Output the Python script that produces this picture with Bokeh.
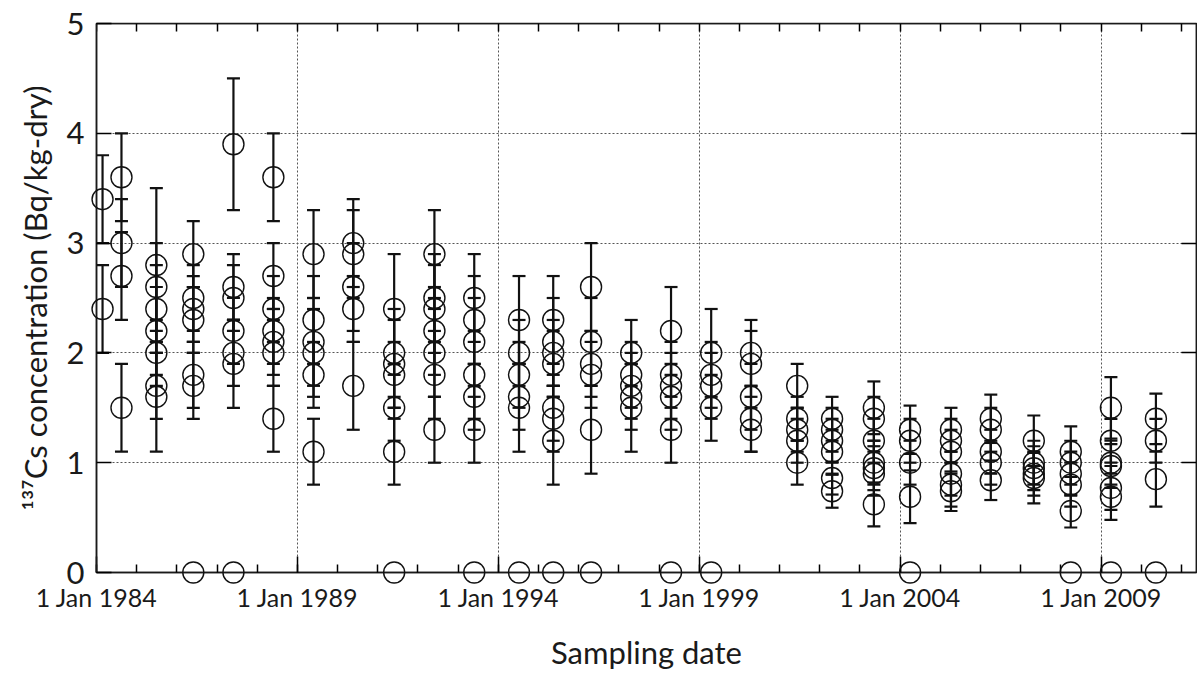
import calendar
from datetime import datetime

import pandas as pd
from bokeh.embed import file_html
from bokeh.models import (ColumnDataSource, CustomJSTickFormatter, DatetimeAxis,
                          DatetimeTickFormatter, FixedTicker, LinearAxis, Range1d,
                          TeeHead, Whisker)
from bokeh.plotting import figure
from bokeh.resources import INLINE

# ---------------- data ----------------
sample_dates = [
    "1984-02-25", "1984-08-15", "1985-06-28", "1986-05-30", "1987-05-30",
    "1988-05-27", "1989-05-27", "1990-05-23", "1991-05-30", "1992-05-30",
    "1993-05-27", "1994-07-08", "1995-05-15", "1996-04-23", "1997-04-23",
    "1998-04-20", "1999-04-20", "2000-04-16", "2001-06-10", "2002-04-23",
    "2003-05-08", "2004-04-01", "2005-04-08", "2006-04-05", "2007-05-01",
    "2008-04-01", "2009-04-01", "2010-05-15",
]
conc = [
    [3.4, 2.4],
    [3.6, 3.0, 2.7, 1.5],
    [2.8, 2.6, 2.4, 2.2, 2.0, 1.7, 1.6],
    [2.9, 2.5, 2.4, 2.3, 1.8, 1.7, 0.0],
    [3.9, 2.6, 2.5, 2.2, 2.0, 1.9, 0.0],
    [3.6, 2.7, 2.4, 2.2, 2.1, 2.0, 1.4],
    [2.9, 2.3, 2.1, 2.0, 1.8, 1.1],
    [3.0, 2.9, 2.6, 2.4, 1.7],
    [2.4, 2.0, 1.9, 1.8, 1.5, 1.1, 0.0],
    [2.9, 2.5, 2.4, 2.2, 2.0, 1.8, 1.3],
    [2.5, 2.3, 2.1, 1.8, 1.6, 1.3, 0.0],
    [2.3, 2.0, 1.8, 1.6, 1.5, 0.0],
    [2.3, 2.1, 2.0, 1.9, 1.5, 1.4, 1.2, 0.0],
    [2.6, 2.1, 1.9, 1.8, 1.3, 0.0],
    [2.0, 1.8, 1.7, 1.6, 1.5],
    [2.2, 1.8, 1.7, 1.6, 1.3, 0.0],
    [2.0, 1.8, 1.7, 1.5, 0.0],
    [2.0, 1.9, 1.6, 1.4, 1.3],
    [1.7, 1.4, 1.3, 1.2, 1.0],
    [1.4, 1.3, 1.2, 1.1, 0.86, 0.74],
    [1.5, 1.4, 1.2, 1.0, 0.95, 0.9, 0.62],
    [1.3, 1.2, 1.0, 0.69, 0.0],
    [1.3, 1.2, 1.1, 0.9, 0.8, 0.74],
    [1.4, 1.3, 1.1, 1.0, 0.84],
    [1.2, 1.0, 0.95, 0.9, 0.86],
    [1.1, 1.0, 0.9, 0.8, 0.56, 0.0],
    [1.5, 1.2, 1.0, 0.97, 0.77, 0.69, 0.0],
    [1.4, 1.2, 0.85, 0.0],
]
err = [
    [0.4, 0.4],
    [0.4, 0.4, 0.4, 0.4],
    [0.7, 0.4, 0.4, 0.4, 0.3, 0.3, 0.5],
    [0.3, 0.3, 0.3, 0.3, 0.3, 0.3, 0.0],
    [0.6, 0.3, 0.3, 0.3, 0.3, 0.4, 0.0],
    [0.4, 0.3, 0.3, 0.3, 0.3, 0.3, 0.3],
    [0.4, 0.4, 0.4, 0.4, 0.3, 0.3],
    [0.4, 0.4, 0.4, 0.3, 0.4],
    [0.5, 0.4, 0.4, 0.3, 0.3, 0.3, 0.0],
    [0.4, 0.4, 0.4, 0.4, 0.4, 0.4, 0.3],
    [0.4, 0.4, 0.4, 0.4, 0.3, 0.3, 0.0],
    [0.4, 0.3, 0.3, 0.3, 0.4, 0.0],
    [0.4, 0.4, 0.3, 0.3, 0.3, 0.3, 0.4, 0.0],
    [0.4, 0.4, 0.3, 0.3, 0.4, 0.0],
    [0.3, 0.3, 0.3, 0.3, 0.4],
    [0.4, 0.3, 0.3, 0.3, 0.3, 0.0],
    [0.4, 0.3, 0.3, 0.3, 0.0],
    [0.3, 0.3, 0.3, 0.3, 0.2],
    [0.2, 0.2, 0.2, 0.2, 0.2],
    [0.2, 0.2, 0.2, 0.2, 0.15, 0.15],
    [0.24, 0.2, 0.2, 0.2, 0.2, 0.2, 0.2],
    [0.22, 0.2, 0.2, 0.24, 0.0],
    [0.2, 0.2, 0.2, 0.2, 0.2, 0.18],
    [0.22, 0.2, 0.2, 0.2, 0.18],
    [0.23, 0.2, 0.2, 0.2, 0.23],
    [0.23, 0.2, 0.2, 0.2, 0.15, 0.0],
    [0.28, 0.2, 0.2, 0.2, 0.2, 0.21, 0.0],
    [0.23, 0.2, 0.25, 0.0],
]
major_years = [1984, 1989, 1994, 1999, 2004, 2009]
minor_years = list(range(1984, 2012))
y_ticks = [0, 1, 2, 3, 4, 5]
x_title = "Sampling date"
y_title = "\u00b9\u00b3\u2077Cs concentration (Bq/kg-dry)"

FONT = "Lato"
INK = "#1a1a1a"


def ms(y, m=1, d=1):
    return calendar.timegm(datetime(y, m, d).timetuple()) * 1000.0


X_START, X_END = ms(1984), ms(2011, 5, 19)
Y_START, Y_END = 0, 5

# flatten
xs, ys, es = [], [], []
for d, vals, errs in zip(sample_dates, conc, err):
    for v, e in zip(vals, errs):
        xs.append(pd.Timestamp(d))
        ys.append(v)
        es.append(e)
df = pd.DataFrame({"x": xs, "y": ys, "e": es})
df["upper"] = df["y"] + df["e"]
df["lower"] = df["y"] - df["e"]
src_pts = ColumnDataSource(df)
src_err = ColumnDataSource(df[df["e"] > 0].reset_index(drop=True))

p = figure(
    width=1197, height=679,
    x_axis_type="datetime",
    x_range=Range1d(X_START, X_END),
    y_range=Range1d(Y_START, Y_END),
    output_backend="svg", toolbar_location=None,
    min_border_left=96, min_border_right=1, min_border_top=23, min_border_bottom=107,
)
p.background_fill_color = "white"
p.border_fill_color = "white"
p.outline_line_color = INK
p.outline_line_width = 1.5

# bottom axis
xa = p.xaxis[0]
xa.ticker = FixedTicker(ticks=[ms(y) for y in major_years],
                        minor_ticks=[ms(y) for y in minor_years])
xa.formatter = DatetimeTickFormatter(years="%-d %b %Y", months="%-d %b %Y",
                                     days="%-d %b %Y")
xa.major_tick_in = 16
xa.major_tick_out = 0
xa.minor_tick_in = 8
xa.minor_tick_out = 0
xa.axis_line_width = 1.5
xa.axis_line_color = INK
xa.major_tick_line_width = 1.5
xa.minor_tick_line_width = 1.5
xa.major_label_text_font = FONT
xa.major_label_text_font_size = "25px"
xa.major_label_text_color = INK
xa.major_label_standoff = 9
xa.axis_label = x_title
xa.axis_label_text_font = FONT
xa.axis_label_text_font_size = "31px"
xa.axis_label_text_font_style = "normal"
xa.axis_label_text_color = INK
xa.axis_label_standoff = 18

# left axis
ya = p.yaxis[0]
ya.ticker = FixedTicker(ticks=y_ticks)
ya.major_tick_in = 15
ya.major_tick_out = 0
ya.minor_tick_in = 0
ya.minor_tick_out = 0
ya.axis_line_width = 1.5
ya.axis_line_color = INK
ya.major_tick_line_width = 1.5
ya.major_label_text_font = FONT
ya.major_label_text_font_size = "31px"
ya.major_label_text_color = INK
ya.major_label_standoff = 12
ya.axis_label = y_title
ya.axis_label_text_font = FONT
ya.axis_label_text_font_size = "31px"
ya.axis_label_text_font_style = "normal"
ya.axis_label_text_color = INK
ya.axis_label_standoff = 10

empty = CustomJSTickFormatter(code="return ''")

# right axis (ticks only), pinned to frame edge so it takes no layout space
ra = LinearAxis(ticker=FixedTicker(ticks=y_ticks[1:-1]), formatter=empty,
                major_tick_in=15, major_tick_out=0, minor_tick_in=0, minor_tick_out=0,
                major_label_standoff=0, axis_line_width=1.5, axis_line_color=INK,
                major_tick_line_width=1.5, fixed_location=X_END)
p.add_layout(ra, "right")

# top axis (yearly minor ticks only)
ta = DatetimeAxis(ticker=FixedTicker(ticks=[], minor_ticks=[ms(y) for y in minor_years]),
                  formatter=empty, major_tick_in=0, major_tick_out=0,
                  minor_tick_in=8, minor_tick_out=0, major_label_standoff=0,
                  axis_line_width=1.5, axis_line_color=INK, minor_tick_line_width=1.5,
                  fixed_location=Y_END)
p.add_layout(ta, "above")

# grid
p.xgrid.ticker = FixedTicker(ticks=[ms(y) for y in major_years[1:]])
p.ygrid.ticker = FixedTicker(ticks=y_ticks[1:-1])
for g in (p.xgrid[0], p.ygrid[0]):
    g.grid_line_color = "#555555"
    g.grid_line_dash = "2 2"
    g.grid_line_width = 1

# error bars
wh = Whisker(source=src_err, base="x", upper="upper", lower="lower",
             dimension="height", line_color="#111111", line_width=2.2,
             upper_head=TeeHead(size=13, line_color="#111111", line_width=2.2),
             lower_head=TeeHead(size=13, line_color="#111111", line_width=2.2))
p.add_layout(wh)

# points
p.scatter("x", "y", source=src_pts, marker="circle", size=21,
          fill_color=None, line_color="#111111", line_width=1.4, level="overlay")

open("out.html", "w").write(file_html(p, INLINE))
